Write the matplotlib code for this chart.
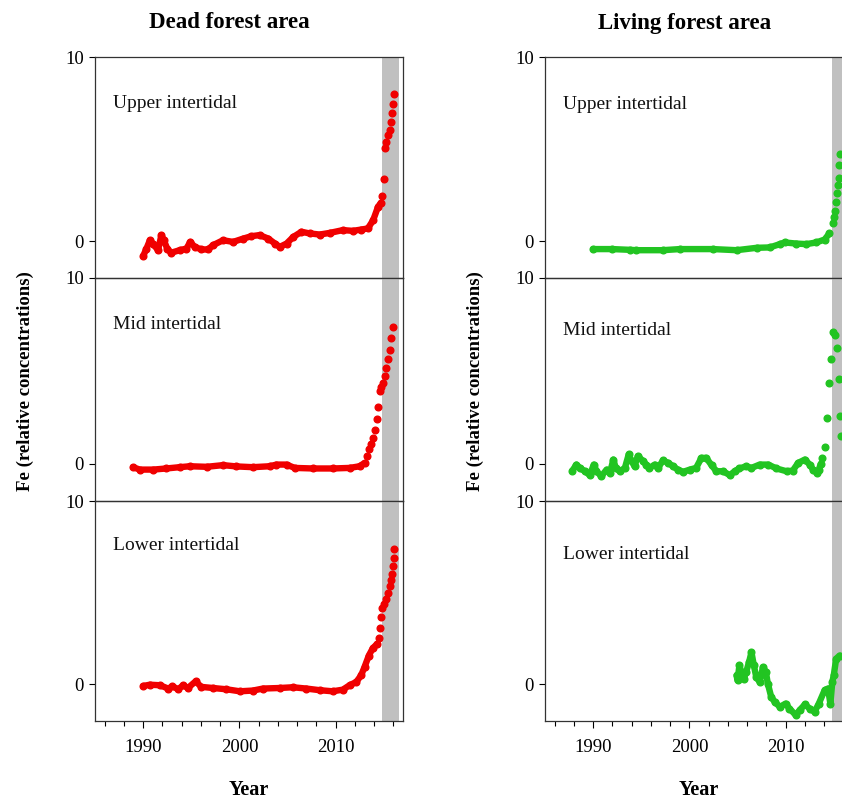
import matplotlib
matplotlib.use("Agg")
import matplotlib.pyplot as plt
from matplotlib.ticker import MultipleLocator, FixedLocator

plt.rcParams['font.family'] = ['Liberation Serif', 'DejaVu Serif']

# ---------------- data ----------------
panel_names = ["Upper intertidal", "Mid intertidal", "Lower intertidal"]
column_titles = ["Dead forest area", "Living forest area"]
x_ticks = [1990, 2000, 2010]
y_ticks = [0, 10]

# Dead forest - upper
dead_upper_year = [1990.0, 1990.35, 1990.7, 1991.0, 1991.55, 1991.9, 1992.15, 1992.5, 1992.9,
                   1993.8, 1994.5, 1994.9, 1995.35, 1996.05, 1996.75, 1997.25, 1998.3, 1999.35,
                   2000.4, 2001.25, 2002.1, 2003.0, 2003.7, 2004.2, 2004.9, 2005.6, 2006.45,
                   2007.3, 2008.35, 2009.4, 2010.75, 2011.8, 2012.65, 2013.35, 2013.9, 2014.4, 2014.7]
dead_upper_fe = [-0.81, -0.40, 0.05, -0.13, -0.49, 0.33, 0.05, -0.40, -0.63,
                 -0.49, -0.40, -0.04, -0.31, -0.45, -0.45, -0.22, 0.05, -0.04,
                 0.14, 0.27, 0.33, 0.14, -0.13, -0.31, -0.13, 0.23, 0.51,
                 0.42, 0.36, 0.45, 0.60, 0.56, 0.63, 0.69, 1.14, 1.86, 2.08]
dead_upper_tail_year = [2014.85, 2015.0, 2015.1, 2015.25, 2015.45, 2015.6, 2015.8, 2015.85, 2016.0, 2016.1]
dead_upper_tail_fe = [2.44, 3.40, 5.08, 5.39, 5.75, 6.06, 6.47, 6.96, 7.47, 8.01]

# Dead forest - mid
dead_mid_year = [1988.95, 1989.65, 1991.05, 1992.4, 1993.8, 1994.85, 1996.6, 1998.3, 1999.7,
                 2001.4, 2003.15, 2003.85, 2004.9, 2005.75, 2007.65, 2009.7, 2011.45, 2012.5,
                 2013.0]
dead_mid_fe = [-0.18, -0.31, -0.31, -0.25, -0.18, -0.13, -0.16, -0.07, -0.14,
               -0.18, -0.13, -0.04, -0.04, -0.22, -0.25, -0.25, -0.22, -0.13,
               0.05]
dead_mid_tail_year = [2013.25, 2013.45, 2013.7, 2013.85, 2014.05, 2014.3, 2014.45, 2014.6,
                      2014.75, 2014.9, 2015.1, 2015.25, 2015.45, 2015.6, 2015.8, 2015.95]
dead_mid_tail_fe = [0.42, 0.78, 1.05, 1.37, 1.80, 2.40, 3.07, 3.90,
                    4.12, 4.33, 4.75, 5.14, 5.65, 6.15, 6.79, 7.36]

# Dead forest - lower
dead_lower_year = [1990.0, 1990.7, 1991.75, 1992.6, 1993.05, 1993.65, 1994.15, 1994.65, 1995.45,
                   1996.05, 1997.25, 1998.65, 2000.05, 2001.4, 2002.45, 2004.2, 2005.55, 2006.95,
                   2008.35, 2009.7, 2010.75, 2011.45, 2012.15, 2012.65, 2013.0, 2013.45, 2013.85,
                   2014.3]
dead_lower_fe = [-0.09, -0.02, -0.05, -0.23, -0.11, -0.27, -0.05, -0.20, 0.16,
                 -0.14, -0.20, -0.27, -0.38, -0.34, -0.23, -0.20, -0.16, -0.23,
                 -0.32, -0.38, -0.29, -0.05, 0.13, 0.49, 0.94, 1.57, 1.96,
                 2.20]
dead_lower_tail_year = [2014.5, 2014.6, 2014.7, 2014.85, 2015.0, 2015.2, 2015.4, 2015.6,
                        2015.75, 2015.85, 2015.95, 2016.05, 2016.05]
dead_lower_tail_fe = [2.50, 3.05, 3.69, 4.18, 4.36, 4.63, 4.99, 5.35,
                      5.71, 6.04, 6.43, 6.88, 7.37]

# Living forest - upper
live_upper_year = [1990.0, 1992.0, 1993.8, 1994.5, 1997.25, 1999.0, 2002.45, 2004.9, 2007.0,
                   2008.35, 2009.4, 2009.9, 2011.1, 2012.15, 2013.2, 2014.05, 2014.55]
live_upper_fe = [-0.43, -0.43, -0.47, -0.49, -0.49, -0.43, -0.43, -0.49, -0.36,
                 -0.34, -0.16, -0.07, -0.13, -0.16, -0.07, 0.09, 0.42]
live_upper_tail_year = [2014.9, 2015.0, 2015.15, 2015.2, 2015.3, 2015.4, 2015.5, 2015.55, 2015.7]
live_upper_tail_fe = [0.96, 1.32, 1.65, 2.13, 2.59, 3.04, 3.45, 4.16, 4.76]

# Living forest - mid
live_mid_year = [1987.85, 1988.27, 1988.6, 1989.15, 1989.65, 1990.07, 1990.35, 1990.85, 1991.4,
                 1991.75, 1992.1, 1992.35, 1992.75, 1993.3, 1993.7, 1994.0, 1994.3, 1994.65,
                 1995.2, 1995.5, 1995.85, 1996.4, 1996.75, 1997.25, 1997.8, 1998.3, 1998.8,
                 1999.35, 2000.05, 2000.7, 2001.25, 2001.75, 2002.3, 2002.8, 2003.5, 2004.2,
                 2004.7, 2005.2, 2005.9, 2006.45, 2007.3, 2008.2, 2009.05, 2010.1, 2010.75,
                 2011.3, 2012.0, 2012.5, 2012.85, 2013.25, 2013.45, 2013.65]
live_mid_fe = [-0.36, -0.04, -0.22, -0.40, -0.61, -0.04, -0.40, -0.67, -0.31,
               -0.49, 0.23, -0.22, -0.40, -0.22, 0.51, 0.14, -0.13, 0.42,
               0.14, -0.04, -0.22, -0.04, -0.22, 0.18, 0.05, -0.13, -0.31,
               -0.43, -0.31, -0.22, 0.32, 0.32, -0.07, -0.40, -0.40, -0.61,
               -0.40, -0.25, -0.13, -0.22, -0.04, -0.04, -0.25, -0.40, -0.36,
               0.05, 0.23, -0.04, -0.31, -0.49, -0.31, 0.00]
live_mid_tail_year = [2013.8, 2014.05, 2014.3, 2014.5, 2014.75, 2014.9, 2015.15, 2015.35,
                      2015.55, 2015.7, 2015.8]
live_mid_tail_fe = [0.29, 0.92, 2.44, 4.33, 5.63, 7.09, 6.91, 6.21,
                    4.57, 2.58, 1.50]

# Living forest - lower
live_lower_year = [2004.9, 2005.0, 2005.2, 2005.4, 2005.65, 2005.9, 2006.2, 2006.45, 2006.7,
                   2006.95, 2007.3, 2007.65, 2007.95, 2008.15, 2008.5, 2008.85, 2009.4, 2010.0,
                   2010.4, 2011.05, 2011.45, 2012.0, 2012.5, 2013.0, 2013.45, 2014.05, 2014.4,
                   2014.65, 2014.85, 2015.0, 2015.25, 2015.6]
live_lower_fe = [0.49, 0.22, 1.03, 0.67, 0.31, 0.67, 1.21, 1.75, 1.03,
                 0.40, 0.13, 0.94, 0.67, 0.04, -0.68, -0.95, -1.23, -1.05,
                 -1.32, -1.68, -1.41, -1.10, -1.32, -1.50, -1.05, -0.32, -0.23,
                 -1.05, 0.13, 0.49, 1.39, 1.57]

dead_series = [
    (dead_upper_year, dead_upper_fe, dead_upper_tail_year, dead_upper_tail_fe),
    (dead_mid_year, dead_mid_fe, dead_mid_tail_year, dead_mid_tail_fe),
    (dead_lower_year, dead_lower_fe, dead_lower_tail_year, dead_lower_tail_fe),
]
live_series = [
    (live_upper_year, live_upper_fe, live_upper_tail_year, live_upper_tail_fe),
    (live_mid_year, live_mid_fe, live_mid_tail_year, live_mid_tail_fe),
    (live_lower_year, live_lower_fe, [], []),
]

# ---------------- figure ----------------
W, H = 842, 801
fig = plt.figure(figsize=(W / 100, H / 100), dpi=100)

col_left_px = [95, 545]
ax_w_px = 308
row_top_px = [57, 278, 501]
row_bot_px = [278, 501, 721]

red = '#f00000'
green = '#22c422'
band_color = '#c0c0c0'
label_xy = [[(0.058, 0.79), (0.058, 0.79), (0.058, 0.80)],
            [(0.058, 0.785), (0.058, 0.765), (0.058, 0.755)]]

for c, (series, color) in enumerate([(dead_series, red), (live_series, green)]):
    for r in range(3):
        x0 = col_left_px[c] / W
        y0 = 1 - row_bot_px[r] / H
        h = (row_bot_px[r] - row_top_px[r]) / H
        ax = fig.add_axes([x0, y0, ax_w_px / W, h])
        ax.set_xlim(1985, 2017)
        ax.set_ylim(-2, 10)
        ax.axvspan(2014.8, 2016.55, color=band_color, zorder=0, lw=0)
        yr, fe, tyr, tfe = series[r]
        ax.plot(yr, fe, color=color, lw=4.6, solid_capstyle='round', solid_joinstyle='round',
                marker='o', ms=4.8, mec=color, mfc=color, zorder=3)
        if len(tyr):
            ax.plot(tyr, tfe, ls='none', marker='o', ms=4.8, mec=color, mfc=color, zorder=3)
        ax.text(label_xy[c][r][0], label_xy[c][r][1], panel_names[r], transform=ax.transAxes,
                fontsize=14, ha='left', va='center', color='#111111')
        ax.yaxis.set_major_locator(FixedLocator(y_ticks))
        ax.set_yticklabels([str(v) for v in y_ticks])
        ax.tick_params(axis='y', direction='out', length=4, width=0.8, labelsize=13.5, pad=4)
        ax.xaxis.set_major_locator(FixedLocator(x_ticks))
        ax.xaxis.set_minor_locator(MultipleLocator(2))
        ax.tick_params(axis='x', which='major', direction='out', length=5, width=0.8,
                       labelsize=13.5, pad=8)
        ax.tick_params(axis='x', which='minor', direction='out', length=3.5, width=0.8)
        if r < 2:
            ax.tick_params(axis='x', which='both', bottom=False, labelbottom=False)
        for s in ax.spines.values():
            s.set_color('#333333')
            s.set_linewidth(0.9)
        ax.set_facecolor('none')

# titles and axis labels
fig.text(229 / W, 1 - 23 / H, column_titles[0], ha='center', va='center', fontsize=16.5, fontweight='bold')
fig.text(685 / W, 1 - 23 / H, column_titles[1], ha='center', va='center', fontsize=16.5, fontweight='bold')
fig.text(25 / W, 1 - 381 / H, "Fe (relative concentrations)", rotation=90, ha='center', va='center',
         fontsize=13.5, fontweight='bold')
fig.text(475 / W, 1 - 381 / H, "Fe (relative concentrations)", rotation=90, ha='center', va='center',
         fontsize=13.5, fontweight='bold')
fig.text(249 / W, 1 - 790 / H, "Year", ha='center', va='center', fontsize=14.5, fontweight='bold')
fig.text(699 / W, 1 - 790 / H, "Year", ha='center', va='center', fontsize=14.5, fontweight='bold')

fig.savefig("out.png", dpi=100)
